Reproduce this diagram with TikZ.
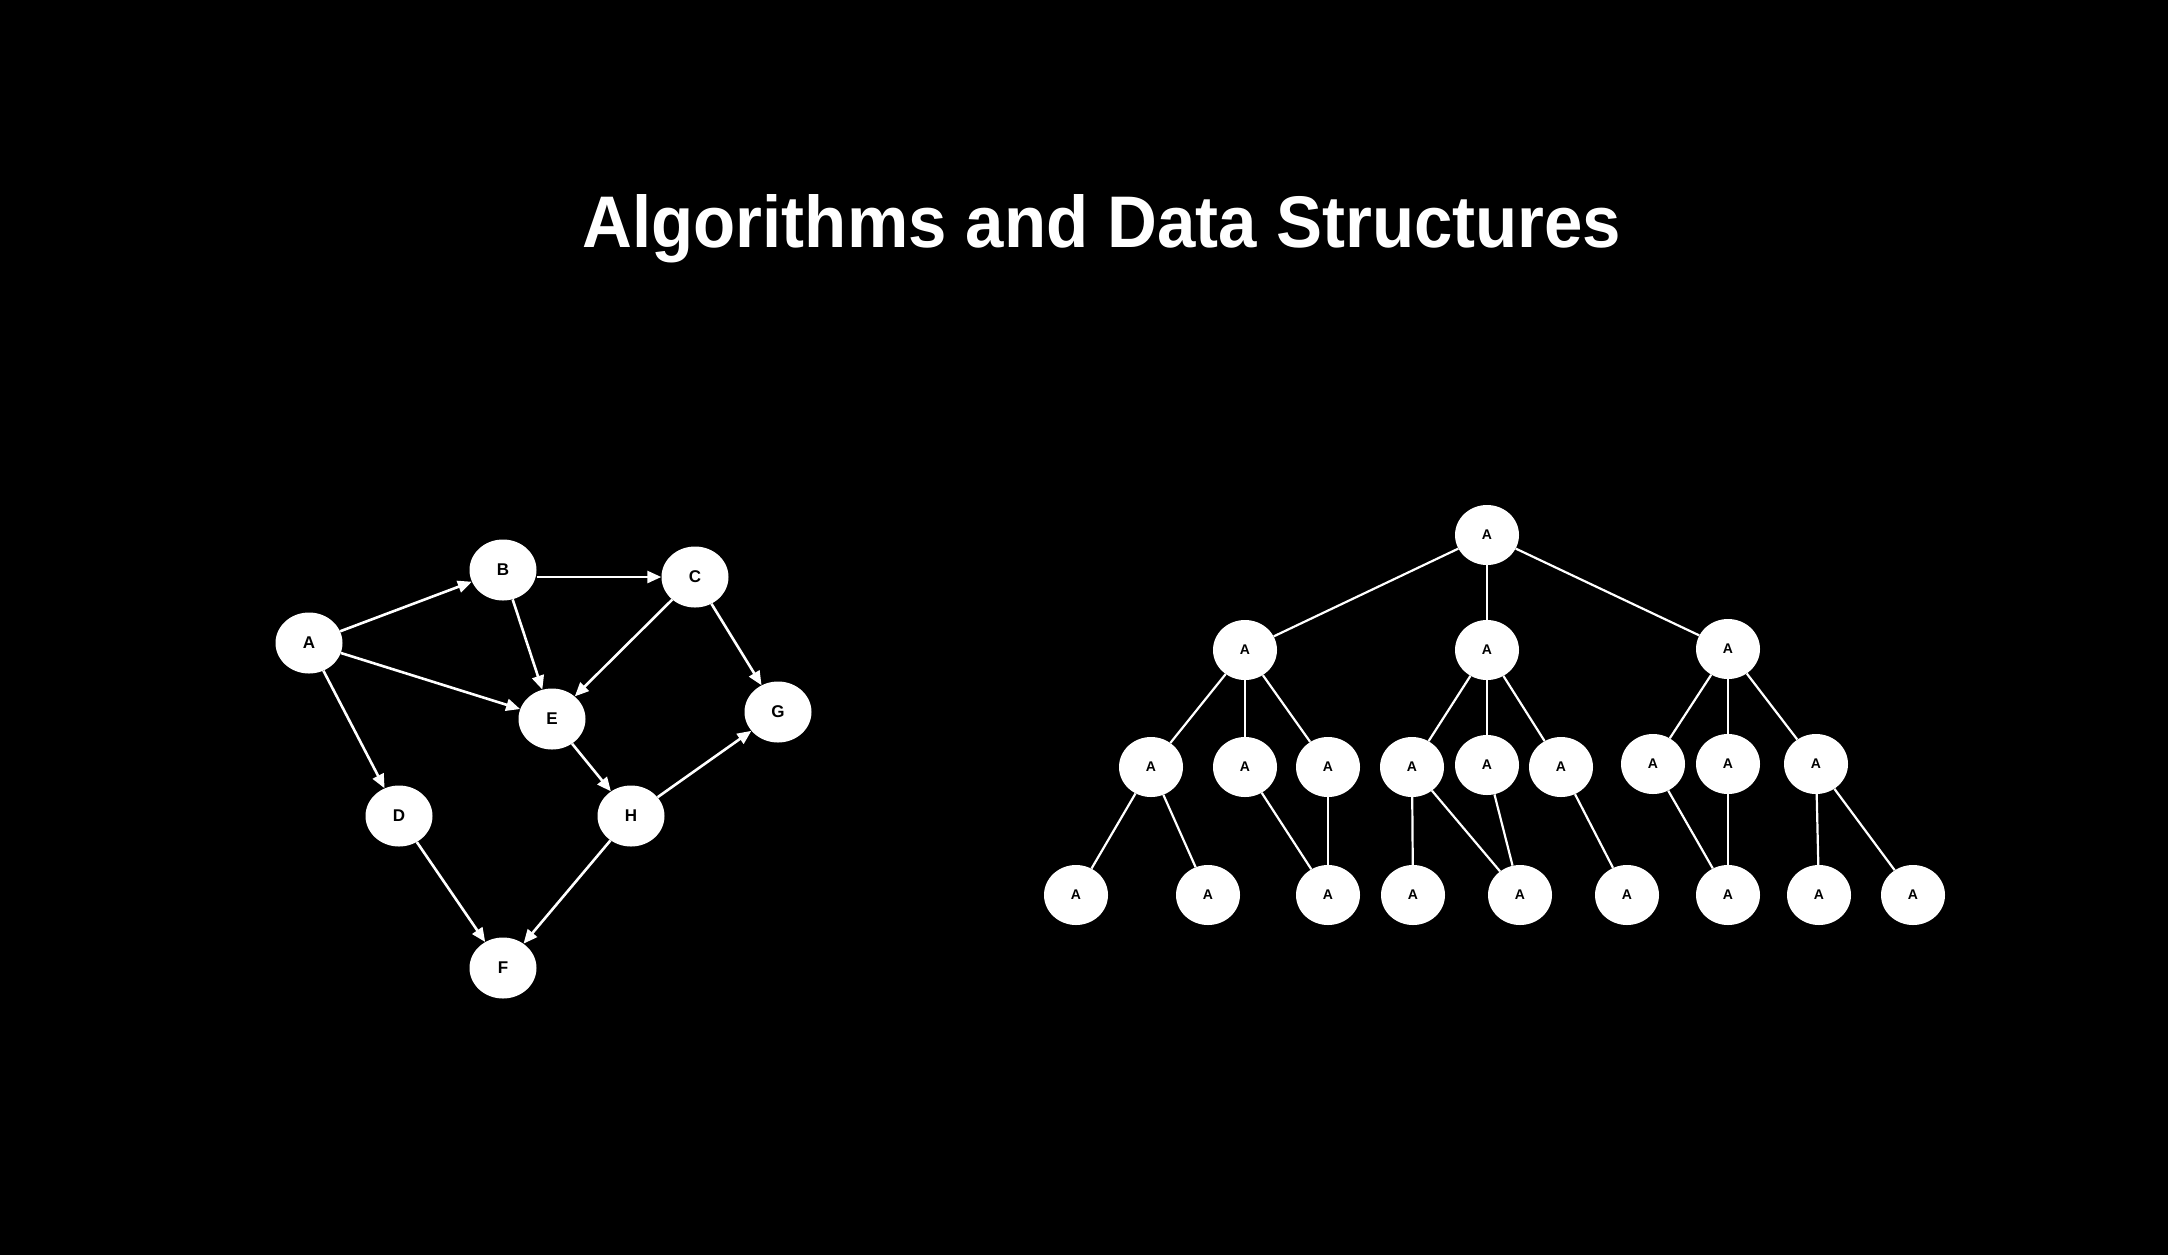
\documentclass[tikz,border=0pt]{standalone}
\usepackage{fontspec}
\setmainfont{Liberation Sans}
\usetikzlibrary{arrows.meta,shapes.geometric}
\begin{document}
\begin{tikzpicture}[x=1pt,y=-1pt,
  gnode/.style={ellipse,fill=white,minimum width=67pt,minimum height=61pt,inner sep=0pt,text=black,font=\fontsize{17}{17}\selectfont\bfseries},
  tnode/.style={ellipse,fill=white,minimum width=64pt,minimum height=60pt,inner sep=0pt,text=black,font=\fontsize{14}{14}\selectfont\bfseries},
  arr/.style={draw=white,line width=2.6pt,-{Triangle[length=14pt,width=12pt]}},
  tedge/.style={draw=white,line width=2.2pt}
]
\useasboundingbox (0,0) rectangle (2168,1254);
\fill[black] (-5,-5) rectangle (2173,1259);

\node (title) [anchor=base,inner sep=0pt,text=white] at (1102,247)
  {\resizebox{1038pt}{53pt}{\bfseries Algorithms and Data Structures}};

% Directed graph
\node[gnode] (A) at (309,643) {A};
\node[gnode] (B) at (503,570) {B};
\node[gnode] (C) at (695,577) {C};
\node[gnode] (E) at (552,719) {E};
\node[gnode] (G) at (778,712) {G};
\node[gnode] (D) at (399,816) {D};
\node[gnode] (H) at (631,816) {H};
\node[gnode] (F) at (503,968) {F};

\draw[arr] (A) -- (B);
\draw[arr] (A) -- (E);
\draw[arr] (A) -- (D);
\draw[arr] (B.east |- C.west) -- (C.west);
\draw[arr] (B) -- (E);
\draw[arr] (C) -- (E);
\draw[arr] (C) -- (G);
\draw[arr] (E) -- (H);
\draw[arr] (H) -- (G);
\draw[arr] (H) -- (F);
\draw[arr] (D) -- (F);

% Tree
\node[tnode] (r) at (1487,535) {A};
\node[tnode] (a1) at (1245,650) {A};
\node[tnode] (a2) at (1487,650) {A};
\node[tnode] (a3) at (1728,649) {A};
\node[tnode] (b1) at (1151,767) {A};
\node[tnode] (b2) at (1245,767) {A};
\node[tnode] (b3) at (1328,767) {A};
\node[tnode] (b4) at (1412,767) {A};
\node[tnode] (b5) at (1487,765) {A};
\node[tnode] (b6) at (1561,767) {A};
\node[tnode] (b7) at (1653,764) {A};
\node[tnode] (b8) at (1728,764) {A};
\node[tnode] (b9) at (1816,764) {A};
\node[tnode] (c1) at (1076,895) {A};
\node[tnode] (c2) at (1208,895) {A};
\node[tnode] (c3) at (1328,895) {A};
\node[tnode] (c4) at (1413,895) {A};
\node[tnode] (c5) at (1520,895) {A};
\node[tnode] (c6) at (1627,895) {A};
\node[tnode] (c7) at (1728,895) {A};
\node[tnode] (c8) at (1819,895) {A};
\node[tnode] (c9) at (1913,895) {A};

\draw[tedge] (r) -- (a1);
\draw[tedge] (r) -- (a2);
\draw[tedge] (r) -- (a3);
\draw[tedge] (a1) -- (b1);
\draw[tedge] (a1) -- (b2);
\draw[tedge] (a1) -- (b3);
\draw[tedge] (a2) -- (b4);
\draw[tedge] (a2) -- (b5);
\draw[tedge] (a2) -- (b6);
\draw[tedge] (a3) -- (b7);
\draw[tedge] (a3) -- (b8);
\draw[tedge] (a3) -- (b9);
\draw[tedge] (b1) -- (c1);
\draw[tedge] (b1) -- (c2);
\draw[tedge] (b2) -- (c3);
\draw[tedge] (b3) -- (c3);
\draw[tedge] (b4) -- (c4);
\draw[tedge] (b4) -- (c5);
\draw[tedge] (b5) -- (c5);
\draw[tedge] (b6) -- (c6);
\draw[tedge] (b7) -- (c7);
\draw[tedge] (b8) -- (c7);
\draw[tedge] (b9) -- (c8);
\draw[tedge] (b9) -- (c9);
\end{tikzpicture}
\end{document}
